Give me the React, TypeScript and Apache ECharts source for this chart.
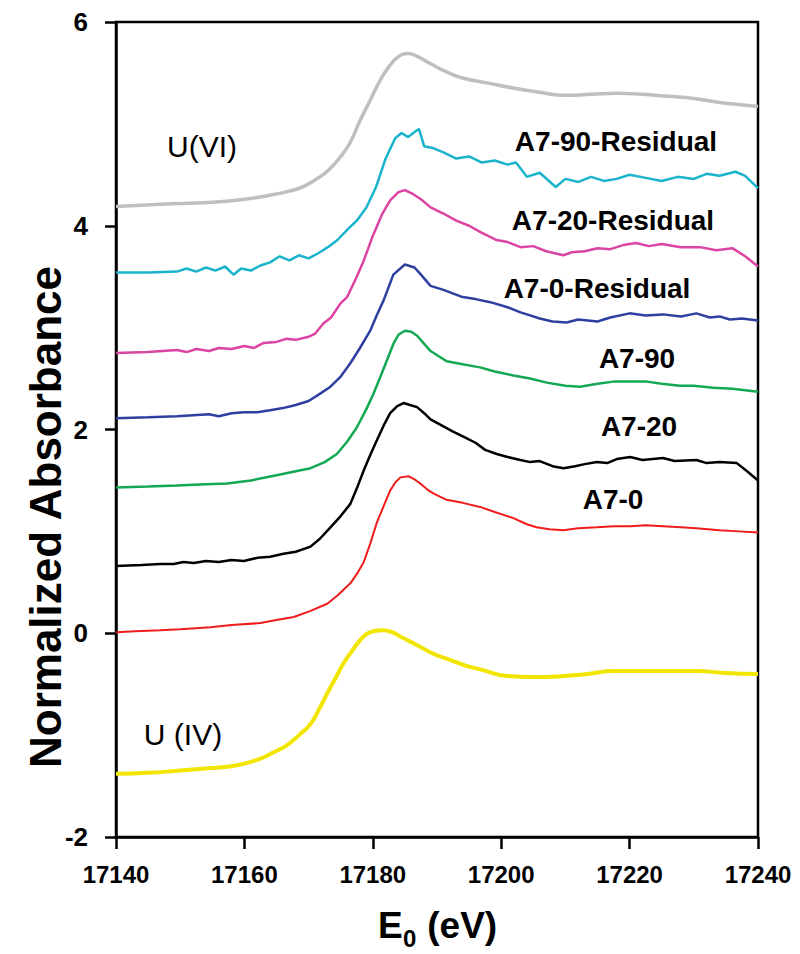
import React, { useEffect, useRef } from "react";
import * as echarts from "echarts";

// ---- data (E0 in eV, normalized absorbance with offsets) ----
const xTicks = [17140, 17160, 17180, 17200, 17220, 17240];
const yTicks = [-2, 0, 2, 4, 6];

const uVI: [number, number][] = [
  [17140, 4.19], [17147, 4.21], [17155, 4.23], [17160, 4.26], [17164, 4.3], [17167, 4.34], [17169, 4.38],
  [17171, 4.45], [17173, 4.54], [17175, 4.68], [17176.5, 4.82], [17178, 5.03], [17179.5, 5.22], [17181, 5.41],
  [17182.5, 5.56], [17184, 5.66], [17185.5, 5.69], [17187, 5.66], [17189, 5.59], [17191.5, 5.51], [17194, 5.45],
  [17198, 5.4], [17202, 5.35], [17206, 5.31], [17210, 5.28], [17214, 5.29], [17218, 5.3], [17222, 5.29],
  [17226, 5.27], [17230, 5.25], [17234, 5.21], [17237, 5.19], [17240, 5.17],
];

const a790Residual: [number, number][] = [
  [17140, 3.54], [17145, 3.54], [17149.5, 3.55], [17151, 3.58], [17152.5, 3.55], [17154, 3.59], [17155.5, 3.56],
  [17157, 3.6], [17158.3, 3.52], [17159.5, 3.58], [17161, 3.56], [17162.5, 3.61], [17164, 3.64], [17165.5, 3.7],
  [17167, 3.66], [17168.5, 3.71], [17170, 3.68], [17171.5, 3.73], [17173, 3.79], [17174.5, 3.86], [17176, 3.96],
  [17177.5, 4.05], [17179, 4.18], [17180.5, 4.38], [17182, 4.66], [17183.5, 4.86], [17184.5, 4.91], [17185.5, 4.87],
  [17186.5, 4.92], [17187.2, 4.95], [17188, 4.78], [17189.5, 4.76], [17191, 4.72], [17193, 4.66], [17195, 4.68],
  [17197, 4.62], [17199, 4.64], [17201, 4.6], [17202.3, 4.62], [17204, 4.48], [17206, 4.52], [17208.5, 4.38],
  [17210, 4.46], [17212, 4.43], [17214, 4.48], [17216, 4.44], [17218, 4.46], [17220, 4.5], [17222.5, 4.47],
  [17225, 4.44], [17227.5, 4.48], [17230, 4.46], [17232, 4.51], [17234, 4.49], [17236.5, 4.53], [17238, 4.49],
  [17240, 4.37],
];

const a720Residual: [number, number][] = [
  [17140, 2.75], [17145, 2.76], [17149.5, 2.78], [17151, 2.76], [17152.5, 2.79], [17154.5, 2.77], [17156, 2.8],
  [17158, 2.79], [17160, 2.82], [17161.5, 2.8], [17163, 2.85], [17165, 2.86], [17166.5, 2.89], [17168, 2.88],
  [17170, 2.91], [17171, 2.94], [17172.3, 3.04], [17173.5, 3.1], [17175, 3.24], [17176, 3.3], [17177.5, 3.5],
  [17178.6, 3.66], [17180, 3.9], [17181.5, 4.12], [17182.7, 4.25], [17184, 4.33], [17185, 4.35], [17186.3, 4.31],
  [17187.5, 4.26], [17189, 4.18], [17191, 4.12], [17193, 4.05], [17195, 4.0], [17197, 3.93], [17199.3, 3.86],
  [17201, 3.84], [17203, 3.79], [17205, 3.8], [17207, 3.75], [17209.7, 3.71], [17211, 3.74], [17213, 3.75],
  [17215, 3.78], [17217, 3.77], [17219, 3.81], [17221, 3.83], [17223, 3.8], [17225, 3.82], [17228, 3.79],
  [17231, 3.79], [17233.5, 3.76], [17236, 3.78], [17238, 3.7], [17240, 3.6],
];

const a70Residual: [number, number][] = [
  [17140, 2.11], [17145, 2.12], [17149.5, 2.13], [17152, 2.14], [17154.5, 2.15], [17156, 2.13], [17158, 2.16],
  [17160, 2.17], [17162, 2.17], [17164, 2.19], [17166, 2.21], [17168, 2.24], [17170, 2.28], [17171.5, 2.34],
  [17173.4, 2.42], [17175, 2.52], [17176.5, 2.65], [17178, 2.8], [17179.6, 2.97], [17180.6, 3.12], [17181.7, 3.27],
  [17183.2, 3.52], [17185, 3.62], [17186.5, 3.59], [17187.5, 3.52], [17189, 3.41], [17191, 3.37], [17194, 3.3],
  [17196, 3.28], [17198.3, 3.25], [17201, 3.2], [17203, 3.15], [17204.5, 3.12], [17206, 3.09], [17208, 3.06],
  [17210.2, 3.05], [17212, 3.08], [17215, 3.06], [17217, 3.1], [17220, 3.14], [17222.5, 3.12], [17225.2, 3.13],
  [17228, 3.11], [17230.4, 3.14], [17232.5, 3.1], [17234, 3.11], [17235.6, 3.08], [17237.5, 3.09], [17240, 3.07],
];

const a790: [number, number][] = [
  [17140, 1.43], [17145, 1.44], [17149.5, 1.45], [17153, 1.46], [17157.3, 1.47], [17161, 1.5], [17165, 1.55],
  [17168, 1.59], [17170.3, 1.62], [17172.5, 1.68], [17174.4, 1.76], [17176, 1.88], [17177.5, 2.02], [17179, 2.2],
  [17180.1, 2.35], [17181.2, 2.52], [17182.2, 2.68], [17183.2, 2.84], [17184, 2.93], [17185, 2.97], [17186, 2.96],
  [17186.9, 2.92], [17188, 2.84], [17189, 2.77], [17191.5, 2.67], [17194, 2.64], [17196.7, 2.61], [17199, 2.57],
  [17201.9, 2.53], [17204.5, 2.5], [17207.1, 2.46], [17210, 2.43], [17212.3, 2.42], [17215, 2.45], [17217.5, 2.47],
  [17220, 2.47], [17222.7, 2.47], [17225, 2.45], [17227.8, 2.43], [17230, 2.43], [17233, 2.41], [17236, 2.4],
  [17240, 2.37],
];

const a720: [number, number][] = [
  [17140, 0.66], [17144, 0.67], [17146.9, 0.68], [17149, 0.68], [17150.5, 0.7], [17152.1, 0.69], [17154, 0.71],
  [17156, 0.7], [17158, 0.72], [17159.9, 0.71], [17162, 0.74], [17164, 0.75], [17166.1, 0.78], [17168, 0.8],
  [17170.3, 0.85], [17171.8, 0.93], [17173.4, 1.04], [17175, 1.15], [17176.5, 1.27], [17177.5, 1.42], [17178.6, 1.6],
  [17179.6, 1.75], [17180.6, 1.89], [17181.7, 2.04], [17182.7, 2.16], [17183.8, 2.23], [17184.8, 2.26], [17185.8, 2.24],
  [17186.9, 2.22], [17188, 2.16], [17189, 2.1], [17191, 2.03], [17192.5, 1.98], [17194.1, 1.93], [17196, 1.87],
  [17197.5, 1.8], [17199.3, 1.76], [17201, 1.73], [17203, 1.7], [17204.5, 1.68], [17206, 1.69], [17208, 1.64],
  [17209.7, 1.62], [17211.5, 1.64], [17213, 1.66], [17214.9, 1.68], [17216.5, 1.67], [17218, 1.71], [17220.1, 1.73],
  [17222, 1.7], [17225.2, 1.72], [17227, 1.69], [17230.4, 1.7], [17232, 1.67], [17234, 1.68], [17236.7, 1.67],
  [17238.3, 1.59], [17240, 1.5],
];

const a70: [number, number][] = [
  [17140, 0.01], [17143, 0.02], [17146.9, 0.03], [17150, 0.04], [17154.7, 0.06], [17158, 0.08], [17162.5, 0.1],
  [17165, 0.13], [17167.7, 0.16], [17170.3, 0.22], [17172.9, 0.29], [17174.5, 0.37], [17176.5, 0.49], [17177.5, 0.58],
  [17178.6, 0.7], [17179.6, 0.88], [17180.6, 1.08], [17181.7, 1.25], [17182.7, 1.4], [17183.5, 1.48], [17184.3, 1.53],
  [17185.6, 1.54], [17186.5, 1.51], [17187.4, 1.47], [17188.5, 1.41], [17189.5, 1.37], [17191.5, 1.31], [17194, 1.28],
  [17196.7, 1.24], [17199, 1.19], [17201.9, 1.13], [17204, 1.07], [17205.5, 1.04], [17207.5, 1.02], [17209.7, 1.01],
  [17212, 1.03], [17214.9, 1.04], [17217.5, 1.05], [17220.1, 1.05], [17222.5, 1.06], [17225.2, 1.05], [17228, 1.04],
  [17230.4, 1.03], [17234, 1.01], [17237, 1.0], [17240, 0.99],
];

const uIV: [number, number][] = [
  [17140, -1.38], [17145, -1.37], [17149.5, -1.35], [17153.5, -1.33], [17157.3, -1.31], [17160, -1.28],
  [17162.5, -1.23], [17164.5, -1.17], [17166.6, -1.1], [17168.5, -1.0], [17170.3, -0.89], [17171.6, -0.75],
  [17172.9, -0.59], [17174.2, -0.44], [17175.4, -0.3], [17176.7, -0.18], [17178, -0.07], [17179, -0.01],
  [17180.1, 0.02], [17181.5, 0.03], [17183, 0.01], [17184.8, -0.05], [17187, -0.12], [17189.4, -0.2],
  [17191.5, -0.25], [17194.1, -0.31], [17197, -0.36], [17200.9, -0.42], [17205, -0.43], [17209.7, -0.42],
  [17213.5, -0.4], [17217.5, -0.37], [17222, -0.37], [17226, -0.37], [17230.4, -0.37], [17235, -0.39], [17240, -0.4],
];

const FONT = "'Liberation Sans', Arial, Helvetica, sans-serif";

export default function App() {
  const ref = useRef<HTMLDivElement>(null);

  useEffect(() => {
    document.body.style.margin = "0";
    if (!ref.current) return;
    const chart = echarts.init(ref.current, null, { renderer: "svg" });

    const mk = (name: string, data: [number, number][], color: string, width: number, smooth = false) => ({
      name,
      type: "line",
      data,
      showSymbol: false,
      symbol: "none",
      smooth,
      lineStyle: { color, width },
      z: 3,
    });

    const label = (text: string, x: number, y: number, size: number, weight: string) => ({
      type: "text",
      x,
      y,
      style: {
        text,
        fill: "#000",
        fontSize: size,
        fontWeight: weight,
        fontFamily: FONT,
        align: "center",
        verticalAlign: "middle",
      },
      z: 10,
    });

    chart.setOption({
      animation: false,
      backgroundColor: "#fff",
      grid: {
        left: 116,
        top: 22,
        width: 642,
        height: 815,
        show: true,
        borderColor: "#000",
        borderWidth: 2.5,
        containLabel: false,
      },
      xAxis: {
        type: "value",
        min: xTicks[0],
        max: xTicks[xTicks.length - 1],
        interval: 20,
        axisLine: { show: true, onZero: false, lineStyle: { color: "#000", width: 2.5 } },
        axisTick: { show: true, inside: false, length: 12, lineStyle: { color: "#000", width: 2.5 } },
        splitLine: { show: false },
        axisLabel: {
          color: "#000",
          fontSize: 24,
          fontWeight: "bold",
          fontFamily: FONT,
          margin: 25,
          formatter: (v: number) => String(v),
        },
      },
      yAxis: {
        type: "value",
        min: yTicks[0],
        max: yTicks[yTicks.length - 1],
        interval: 2,
        axisLine: { show: true, onZero: false, lineStyle: { color: "#000", width: 2.5 } },
        axisTick: { show: true, inside: false, length: 11, lineStyle: { color: "#000", width: 2.5 } },
        splitLine: { show: false },
        axisLabel: {
          color: "#000",
          fontSize: 26,
          fontWeight: "bold",
          fontFamily: FONT,
          margin: 28,
          formatter: (v: number) => String(v),
        },
      },
      series: [
        mk("U(VI)", uVI, "#bfbfbf", 3.5, true),
        mk("A7-90-Residual", a790Residual, "#1ab3cc", 2.5),
        mk("A7-20-Residual", a720Residual, "#dc44a4", 2.5),
        mk("A7-0-Residual", a70Residual, "#2e3fa0", 2.5),
        mk("A7-90", a790, "#13a852", 2.5),
        mk("A7-20", a720, "#000000", 2.5),
        mk("A7-0", a70, "#ee1c1c", 2),
        mk("U (IV)", uIV, "#f2e600", 4, true),
      ],
      graphic: [
        label("U(VI)", 202, 146, 30, "normal"),
        label("A7-90-Residual", 616, 141, 28, "bold"),
        label("A7-20-Residual", 613, 220, 28, "bold"),
        label("A7-0-Residual", 597, 288, 28, "bold"),
        label("A7-90", 637, 358, 28, "bold"),
        label("A7-20", 639, 426, 28, "bold"),
        label("A7-0", 613, 499, 28, "bold"),
        label("U (IV)", 183, 734, 30, "normal"),
        {
          type: "text",
          x: 45,
          y: 517,
          rotation: Math.PI / 2,
          style: {
            text: "Normalized Absorbance",
            fill: "#000",
            fontSize: 44,
            fontWeight: "bold",
            fontFamily: FONT,
            align: "center",
            verticalAlign: "middle",
          },
        },
        {
          type: "text",
          x: 378,
          y: 925,
          style: {
            text: "E",
            fill: "#000",
            fontSize: 37,
            fontWeight: "bold",
            fontFamily: FONT,
            align: "left",
            verticalAlign: "middle",
          },
        },
        {
          type: "text",
          x: 403,
          y: 938,
          style: {
            text: "0",
            fill: "#000",
            fontSize: 24,
            fontWeight: "bold",
            fontFamily: FONT,
            align: "left",
            verticalAlign: "middle",
          },
        },
        {
          type: "text",
          x: 417,
          y: 925,
          style: {
            text: " (eV)",
            fill: "#000",
            fontSize: 37,
            fontWeight: "bold",
            fontFamily: FONT,
            align: "left",
            verticalAlign: "middle",
          },
        },
      ],
    });

    return () => chart.dispose();
  }, []);

  return <div ref={ref} style={{ width: 800, height: 954 }} />;
}
